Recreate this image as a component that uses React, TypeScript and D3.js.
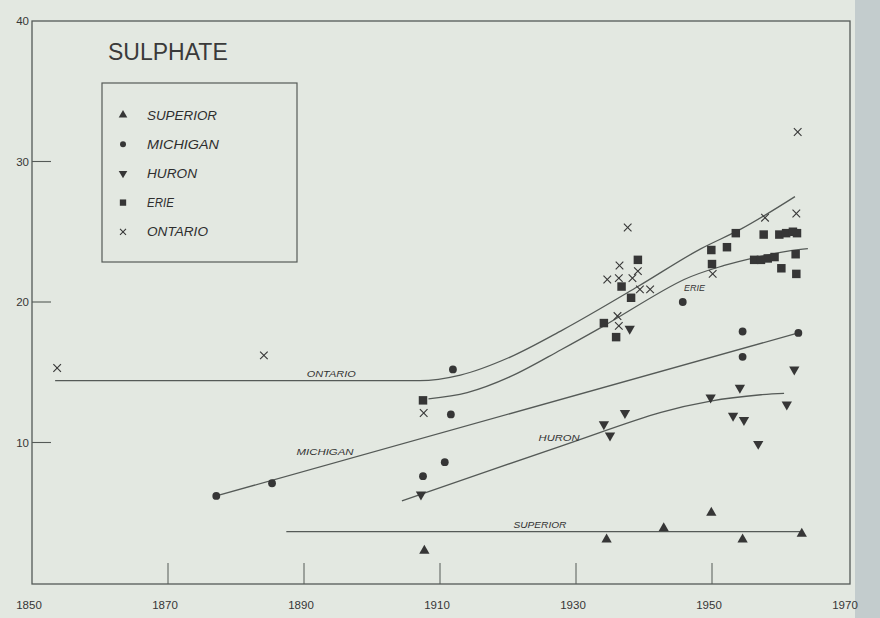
import * as d3 from 'd3';

// --- data (year, sulphate mg/l) ---
const superiorPts: [number, number][] = [
  [1907.7, 2.3], [1934.5, 3.1], [1942.9, 3.9], [1949.9, 5.0], [1954.5, 3.1], [1963.2, 3.5],
];
const michiganPts: [number, number][] = [
  [1877.1, 6.2], [1885.3, 7.1], [1907.5, 7.6], [1910.7, 8.6], [1911.6, 12.0], [1911.9, 15.2],
  [1945.7, 20.0], [1954.5, 17.9], [1954.5, 16.1], [1962.7, 17.8],
];
const huronPts: [number, number][] = [
  [1907.2, 6.3], [1934.1, 11.3], [1935.0, 10.5], [1937.2, 12.1], [1937.9, 18.1], [1949.8, 13.2],
  [1954.1, 13.9], [1953.1, 11.9], [1954.7, 11.6], [1956.8, 9.9], [1961.0, 12.7], [1962.1, 15.2],
];
const eriePts: [number, number][] = [
  [1907.5, 13.0], [1934.1, 18.5], [1935.9, 17.5], [1939.1, 23.0], [1936.7, 21.1], [1938.1, 20.3],
  [1949.9, 23.7], [1950.0, 22.7], [1952.2, 23.9], [1953.5, 24.9], [1957.6, 24.8], [1959.9, 24.8],
  [1960.9, 24.9], [1961.9, 25.0], [1962.5, 24.9], [1956.2, 23.0], [1957.2, 23.0], [1958.2, 23.1],
  [1959.2, 23.2], [1960.2, 22.4], [1962.3, 23.4], [1962.4, 22.0],
];
const ontarioPts: [number, number][] = [
  [1853.7, 15.3], [1884.1, 16.2], [1907.6, 12.1], [1937.6, 25.3], [1936.4, 22.6], [1934.6, 21.6],
  [1936.3, 21.7], [1938.3, 21.7], [1939.1, 22.2], [1939.4, 20.9], [1940.9, 20.9], [1936.1, 19.0],
  [1936.3, 18.3], [1957.8, 26.0], [1962.4, 26.3], [1962.6, 32.1], [1950.1, 22.0],
];

// hand-drawn trend curves
const ontarioFit: [number, number][] = [
  [1853.4, 14.4], [1907.0, 14.4], [1913.0, 14.8], [1920.4, 16.1], [1928.0, 18.0],
  [1939.1, 21.1], [1948.4, 23.8], [1954.3, 25.2], [1962.2, 27.5],
];
const erieFit: [number, number][] = [
  [1908.3, 13.1], [1914.0, 13.55], [1920.4, 14.7], [1927.8, 16.6], [1934.1, 18.3],
  [1945.9, 21.6], [1951.8, 22.6], [1956.7, 23.2], [1961.6, 23.65], [1964.1, 23.8],
];
const michiganFit: [number, number][] = [[1877.1, 6.2], [1962.7, 17.8]];
const huronFit: [number, number][] = [
  [1904.4, 5.85], [1927.8, 9.75], [1942.5, 12.15], [1949.8, 12.95], [1957.2, 13.4], [1960.6, 13.5],
];
const superiorFit: [number, number][] = [[1887.4, 3.65], [1963.2, 3.65]];

const curveLabels = [
  { text: 'ONTARIO', year: 1890.4, value: 14.66, len: 49 },
  { text: 'MICHIGAN', year: 1888.9, value: 9.1, len: 57 },
  { text: 'HURON', year: 1924.5, value: 10.1, len: 41 },
  { text: 'SUPERIOR', year: 1920.8, value: 3.9, len: 53 },
  { text: 'ERIE', year: 1945.9, value: 20.8, len: 21 },
];

const xTicks = [1870, 1890, 1910, 1930, 1950];
const xLabels = [1850, 1870, 1890, 1910, 1930, 1950, 1970];
const yTicks = [10, 20, 30];
const yLabels = [10, 20, 30, 40];

const legendItems = [
  { name: 'SUPERIOR', kind: 'up', len: 70 },
  { name: 'MICHIGAN', kind: 'circle', len: 72 },
  { name: 'HURON', kind: 'down', len: 50 },
  { name: 'ERIE', kind: 'square', len: 27 },
  { name: 'ONTARIO', kind: 'x', len: 61 },
];

const W = 880;
const H = 618;
const INK = '#363636';
const LINE = '#555a57';
const FONT = '"Liberation Sans", Arial, Helvetica, sans-serif';

const x = d3.scaleLinear().domain([1850, 1970]).range([32, 848]);
const y = d3.scaleLinear().domain([0, 40]).range([583, 21]);

const smooth = d3.line<[number, number]>()
  .x(d => x(d[0]))
  .y(d => y(d[1]))
  .curve(d3.curveCatmullRom.alpha(0.5));

// monotone keeps the long flat Ontario stretch from dipping
const flatThenRise = d3.line<[number, number]>()
  .x(d => x(d[0]))
  .y(d => y(d[1]))
  .curve(d3.curveMonotoneX);

const triUp = d3.symbol().type(d3.symbolTriangle).size(46)()!;
const triUpSmall = d3.symbol().type(d3.symbolTriangle).size(32)()!;
const square = d3.symbol().type(d3.symbolSquare).size(72)()!;
const squareSmall = d3.symbol().type(d3.symbolSquare).size(40)()!;

function Marker({ kind, cx, cy, small }: { kind: string; cx: number; cy: number; small?: boolean }) {
  const t = `translate(${cx},${cy})`;
  if (kind === 'up') return <path d={small ? triUpSmall : triUp} transform={t} fill={INK} />;
  if (kind === 'down') return <path d={small ? triUpSmall : triUp} transform={`${t} rotate(180)`} fill={INK} />;
  if (kind === 'square') return <path d={small ? squareSmall : square} transform={t} fill={INK} />;
  if (kind === 'circle') return <circle cx={cx} cy={cy} r={small ? 3 : 3.9} fill={INK} />;
  const s = small ? 3 : 3.8;
  return (
    <g transform={t} stroke={INK} strokeWidth={1.1}>
      <line x1={-s} y1={-s} x2={s} y2={s} />
      <line x1={-s} y1={s} x2={s} y2={-s} />
    </g>
  );
}

export default function App() {
  const series: { kind: string; pts: [number, number][] }[] = [
    { kind: 'up', pts: superiorPts },
    { kind: 'circle', pts: michiganPts },
    { kind: 'down', pts: huronPts },
    { kind: 'square', pts: eriePts },
    { kind: 'x', pts: ontarioPts },
  ];
  const fitPaths = [
    flatThenRise(ontarioFit)!,
    smooth(erieFit)!,
    smooth(michiganFit)!,
    smooth(huronFit)!,
    smooth(superiorFit)!,
  ];
  const [x0, x1] = x.range();
  const [yb, yt] = y.range();

  return (
    <svg
      width={W}
      height={H}
      style={{ position: 'absolute', left: 0, top: 0, display: 'block' }}
      fontFamily={FONT}
    >
      <rect width={W} height={H} fill="#e3e8e1" />
      <rect x={855} width={W - 855} height={H} fill="#c3cccd" />

      {/* frame */}
      <rect x={x0} y={yt} width={x1 - x0 + 2} height={yb - yt + 1} fill="none" stroke={LINE} strokeWidth={1.3} />

      {/* ticks */}
      {xTicks.map(t => (
        <line key={t} x1={x(t)} x2={x(t)} y1={yb + 1} y2={yb - 20} stroke={LINE} strokeWidth={1} />
      ))}
      {yTicks.map(t => (
        <line key={t} x1={x0} x2={x0 + 19} y1={y(t)} y2={y(t)} stroke={LINE} strokeWidth={1.1} />
      ))}
      {xLabels.map(t => (
        <text key={t} x={x(t) - 3} y={yb + 26} textAnchor="middle" fontSize={11.5} fill={INK}>
          {t}
        </text>
      ))}
      {yLabels.map(t => (
        <text key={t} x={29} y={y(t)} dy="0.35em" textAnchor="end" fontSize={11.5} fill={INK}>
          {t}
        </text>
      ))}

      {/* title and legend */}
      <text x={108} y={60} fontSize={23} fill="#3a3a3a">SULPHATE</text>
      <rect x={102} y={83} width={195} height={179} fill="none" stroke={LINE} strokeWidth={1.2} />
      {legendItems.map((d, i) => {
        const cy = 115 + i * 29.2;
        return (
          <g key={d.name}>
            <Marker kind={d.kind} cx={123} cy={cy} small />
            <text
              x={147}
              y={cy + 4.5}
              fontSize={12.5}
              fontStyle="italic"
              fill="#2e2e2e"
              textLength={d.len}
              lengthAdjust="spacingAndGlyphs"
            >
              {d.name}
            </text>
          </g>
        );
      })}

      {/* trend curves */}
      {fitPaths.map((d, i) => (
        <path key={i} d={d} fill="none" stroke={LINE} strokeWidth={1.3} />
      ))}
      {curveLabels.map(l => (
        <text
          key={l.text}
          x={x(l.year)}
          y={y(l.value)}
          fontSize={9.5}
          fontStyle="italic"
          fill="#333"
          textLength={l.len}
          lengthAdjust="spacingAndGlyphs"
        >
          {l.text}
        </text>
      ))}

      {/* observations */}
      {series.map(s =>
        s.pts.map((p, j) => <Marker key={`${s.kind}-${j}`} kind={s.kind} cx={x(p[0])} cy={y(p[1])} />),
      )}
    </svg>
  );
}
